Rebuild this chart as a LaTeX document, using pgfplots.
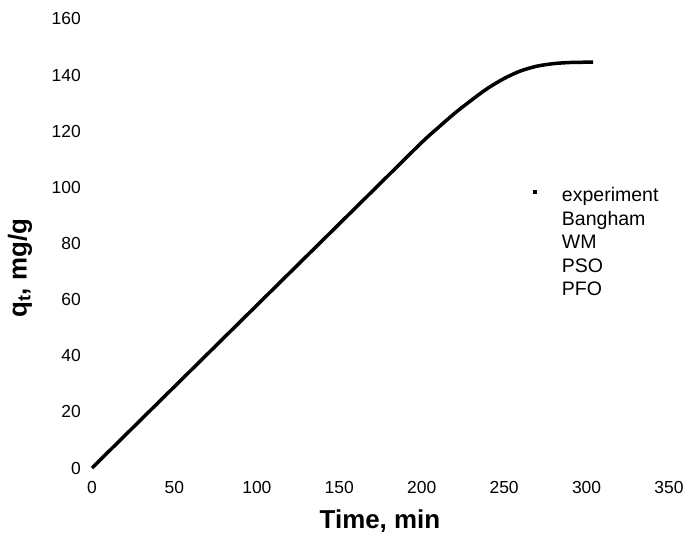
\documentclass[border=0pt]{standalone}
\usepackage{pgfplots}
\pgfplotsset{compat=1.18}
\usepackage{fontspec}
\setmainfont{Liberation Sans}
\newcommand\tickfont{\fontsize{17.5}{21}\selectfont}
\newcommand\legfont{\fontsize{19.6}{23}\selectfont}
\newcommand\labfont{\fontsize{26}{31}\selectfont\bfseries}
\begin{document}
\begin{tikzpicture}[font=\tickfont]
\useasboundingbox (-92bp,-67bp) rectangle (592bp,468bp);
\begin{axis}[
  anchor=origin, at={(0,0)},
  scale only axis, width=577bp, height=449bp,
  xmin=0, xmax=350, ymin=0, ymax=160,
  xtick={0,50,...,350}, ytick={0,20,...,160},
  axis line style={draw=none}, tick style={draw=none},
  clip=false,
  /pgf/number format/assume math mode=true,
  every tick label/.append style={font=\tickfont},
  xticklabel style={inner sep=0pt, anchor=north, yshift=-13.5bp},
  yticklabel style={inner sep=0pt, anchor=east, xshift=-11bp},
  xlabel={Time, min},
  ylabel={q\textsubscript{t}, mg/g},
  label style={font=\labfont},
  xlabel style={at={(rel axis cs:0.499,-0.135)}, anchor=base},
  ylabel style={at={(rel axis cs:-0.1248,0.445)}, anchor=center},
  legend style={at={(rel axis cs:0.764,0.625)}, anchor=north west, draw=none, fill=none, inner sep=0pt,
    row sep=5.6bp,
    nodes={inner sep=0pt, text height=14bp, text depth=4bp, font=\legfont}},
  legend cell align=left,
]
\addlegendimage{legend image code/.code={\path (-1.5bp,0) (27bp,0); \fill[black] (-1.3bp,3.7bp) rectangle (1.3bp,6.3bp);}}
\addlegendentry{experiment}
\addlegendimage{legend image code/.code={\path (-1.5bp,0) (27bp,0);}}
\addlegendentry{Bangham}
\addlegendimage{legend image code/.code={\path (-1.5bp,0) (27bp,0);}}
\addlegendentry{WM}
\addlegendimage{legend image code/.code={\path (-1.5bp,0) (27bp,0);}}
\addlegendentry{PSO}
\addlegendimage{legend image code/.code={\path (-1.5bp,0) (27bp,0);}}
\addlegendentry{PFO}
\addplot[black, line width=3.5bp, smooth, forget plot] coordinates {
(0,0) (25,14.5) (50,29) (75,43.5) (100,58) (125,72.5) (150,87) (175,101.5) (200,116)
(210,121.3) (220,126.4) (230,131) (240,135.3) (250,138.8) (260,141.5) (270,143.2)
(280,144.1) (290,144.5) (300,144.6) (304,144.6)
};
\end{axis}
\end{tikzpicture}
\end{document}
